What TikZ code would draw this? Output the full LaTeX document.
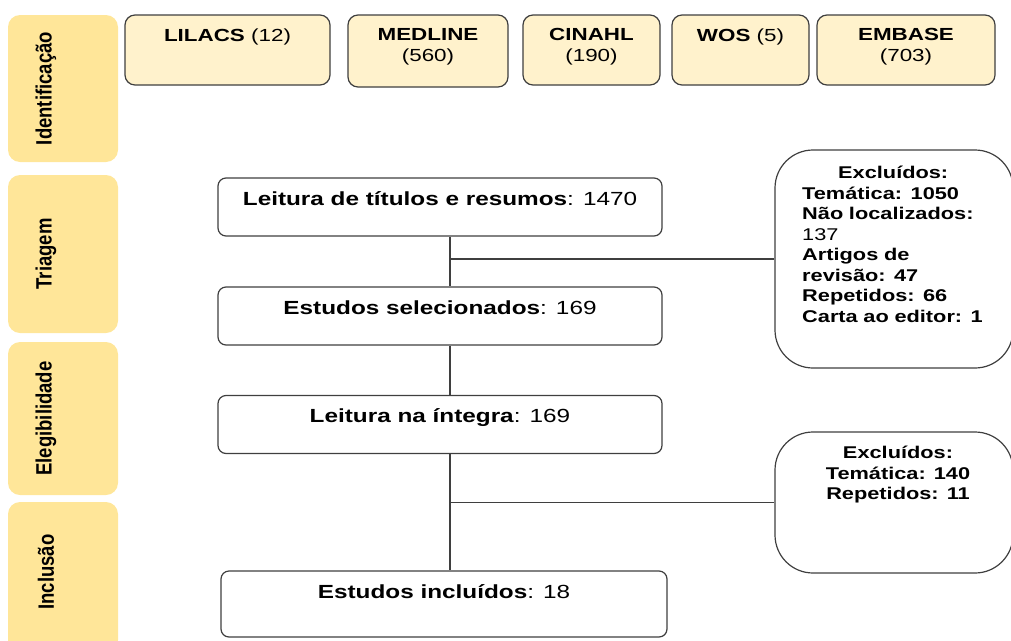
\documentclass[tikz,border=0pt]{standalone}
\usepackage{fontspec}
\setmainfont{Liberation Sans}[FakeStretch=1.28]
\newfontfamily\fasefont{Liberation Sans}
\usetikzlibrary{positioning}
\definecolor{fasecor}{HTML}{FFE699}
\definecolor{basecor}{HTML}{FFF2CC}
\definecolor{bordacor}{HTML}{3F3F3F}

\begin{document}
\begin{tikzpicture}[x = 1pt, y = -1pt,
  fase/.style = {fill = fasecor, rounded corners = 12pt, minimum width = 110pt, inner sep = 0pt},
  fasetxt/.style = {rotate = 90, inner sep = 0pt, font = \fasefont\bfseries\fontsize{18.5}{20}\selectfont},
  fonte/.style = {draw = bordacor, fill = basecor, line width = 1.2pt, rounded corners = 10pt, inner sep = 0pt, minimum height = 70pt},
  fontetxt/.style = {anchor = north, inner sep = 0pt, align = center, font = \fontsize{17.5}{21}\selectfont},
  passo/.style = {draw = bordacor, line width = 1.2pt, rounded corners = 8pt, minimum width = 444pt, inner sep = 0pt, text height = 27pt, text depth = 31pt, font = \fontsize{19}{23}\selectfont},
  excl/.style = {draw = bordacor, line width = 1.2pt, rounded corners = 38pt, minimum width = 238pt, inner sep = 0pt},
  excltxt/.style = {inner sep = 0pt, font = \bfseries\fontsize{17}{20.5}\selectfont},
  liga/.style = {draw = bordacor, line width = 1.2pt}]
\useasboundingbox (0,0) rectangle (1011,640);

% fases
\node[fase, minimum height = 147pt] (ident) at (63, 88.5) {};
\node[fase, minimum height = 158pt] (triag) at (63, 254) {};
\node[fase, minimum height = 153pt] (eleg) at (63, 418.5) {};
\node[fase, minimum height = 150pt] (incl) at (63, 577) {};
\node[fasetxt] (ident-t) at ([xshift = -17pt]ident.center) {\scalebox{1}[1.2]{Identificação}};
\node[fasetxt] (triag-t) at ([xshift = -17pt]triag.center) {\scalebox{1}[1.2]{Triagem}};
\node[fasetxt] (eleg-t) at ([xshift = -17pt]eleg.center) {\scalebox{1}[1.2]{Elegibilidade}};
\node[fasetxt] (incl-t) at ([xshift = -17pt, yshift = 5pt]incl.center) {\scalebox{1}[1.2]{Inclusão}};

% bases
\node[fonte, minimum width = 205pt] (lilacs) at (227.5, 50) {};
\node[fonte, minimum width = 160pt, minimum height = 72pt] (medline) at (428, 51) {};
\node[fonte, minimum width = 137pt] (cinahl) at (591.5, 50) {};
\node[fonte, minimum width = 137pt] (wos) at (740.5, 50) {};
\node[fonte, minimum width = 178pt] (embase) at (906, 50) {};
\node[fontetxt] (lilacs-t) at ([yshift = -14pt]lilacs.north) {\textbf{LILACS} (12)};
\node[fontetxt] (medline-t) at ([yshift = -14pt]medline.north) {\textbf{MEDLINE}\\(560)};
\node[fontetxt] (cinahl-t) at ([yshift = -14pt]cinahl.north) {\textbf{CINAHL}\\(190)};
\node[fontetxt] (wos-t) at ([yshift = -14pt]wos.north) {\textbf{WOS} (5)};
\node[fontetxt] (embase-t) at ([yshift = -14pt]embase.north) {\textbf{EMBASE}\\(703)};

% etapas
\node[passo] (titulos) at (440, 207) {\textbf{Leitura de títulos e resumos}: 1470};
\node[passo] (selecionados) at (440, 316) {\textbf{Estudos selecionados}: 169};
\node[passo] (integra) at (440, 424.5) {\textbf{Leitura na íntegra}: 169};
\node[passo, minimum width = 446pt, text depth = 39pt] (incluidos) at (444, 604) {\textbf{Estudos incluídos}: 18};

% excluidos
\node[excl, minimum height = 218pt] (excl1) at (894, 259) {};
\node[excl, minimum height = 141pt] (excl2) at (894, 502.5) {};
\node[excltxt, anchor = north west, text width = 190pt, align = left] (excl1-t) at (802, 166)
  {\makebox[182pt][c]{Excluídos:}\\Temática: 1050\\Não localizados:\\{\mdseries 137}\\Artigos de\\revisão: 47\\Repetidos: 66\\Carta ao editor: 1};
\node[excltxt, anchor = north, align = center] (excl2-t) at (898, 446)
  {Excluídos:\\Temática: 140\\Repetidos: 11};

% ligacoes
\coordinate (j1) at ([xshift = 10pt]titulos.south |- excl1.west);
\coordinate (j2) at ([xshift = 10pt]integra.south |- excl2.west);
\draw[liga] ([xshift = 10pt]titulos.south) -- ([xshift = 10pt]selecionados.north);
\draw[liga] ([xshift = 10pt]selecionados.south) -- ([xshift = 10pt]integra.north);
\draw[liga] ([xshift = 10pt]integra.south) -- ([xshift = 6pt]incluidos.north);
\draw[liga] (j1) -- (excl1.west);
\draw[liga] (j2) -- (excl2.west);
\end{tikzpicture}
\end{document}
